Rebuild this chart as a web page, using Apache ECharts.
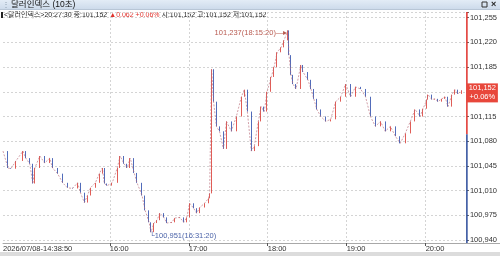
<!DOCTYPE html>
<html>
<head>
<meta charset="utf-8">
<script src="https://cdn.jsdelivr.net/npm/echarts@6/dist/echarts.min.js"></script>
<style>
  html, body { margin: 0; padding: 0; background: #fff; }
  #chart { width: 500px; height: 256px; }
</style>
</head>
<body>
<div id="chart"></div>
<script>
/* 달러인덱스 (10초) — intraday tick chart */
const times = [
  '14:38:50','14:42:40','14:44:50','14:48:40','14:54:00','14:56:10','14:59:10','15:01:30','15:03:00','15:06:50',
  '15:10:30','15:14:20','15:16:30','15:20:20','15:24:10','15:27:50','15:31:40','15:35:30','15:37:40','15:40:40',
  '15:43:00','15:45:20','15:49:00','15:52:00','15:54:20','15:55:50','15:58:00','16:01:50','16:05:40','16:07:50',
  '16:10:50','16:13:10','16:15:30','16:18:30','16:20:40','16:24:30','16:26:50','16:29:50','16:31:20','16:33:30',
  '16:35:50','16:38:00','16:41:00','16:43:20','16:47:10','16:49:20','16:53:10','16:56:10','16:58:30','17:00:40',
  '17:03:40','17:06:00','17:08:20','17:12:00','17:15:00','17:15:50','17:17:20','17:18:50','17:21:00','17:23:20',
  '17:26:20','17:28:40','17:32:20','17:36:10','17:40:00','17:42:10','17:44:30','17:47:30','17:49:50','17:52:50',
  '17:55:00','17:57:20','17:59:30','18:02:40','18:04:50','18:07:10','18:10:10','18:12:20','18:15:20','18:16:10',
  '18:17:40','18:19:10','18:21:30','18:25:10','18:26:50','18:30:30','18:32:50','18:35:00','18:37:20','18:40:20',
  '18:44:10','18:47:50','18:51:40','18:55:30','18:59:10','19:03:00','19:06:40','19:10:30','19:14:20','19:18:00',
  '19:21:50','19:25:40','19:29:20','19:33:10','19:37:00','19:40:40','19:44:30','19:48:20','19:52:00','19:55:50',
  '19:58:00','20:01:00','20:01:50','20:04:50','20:07:10','20:09:20','20:12:20','20:14:40','20:17:00','20:20:00',
  '20:22:10','20:24:30','20:27:30'
];
const closes = [
  101.066,101.042,101.041,101.052,101.066,101.056,101.048,101.020,101.042,101.059,
  101.049,101.056,101.042,101.034,101.021,101.014,101.013,101.021,101.007,100.993,
  101.003,101.014,101.021,101.034,101.042,101.020,101.017,101.021,101.042,101.059,
  101.048,101.042,101.056,101.035,101.021,101.003,100.982,100.965,100.951,100.964,
  100.968,100.978,100.972,100.964,100.965,100.971,100.972,100.965,100.972,100.992,
  100.985,100.978,100.986,100.992,100.999,101.006,101.182,101.136,101.101,101.094,
  101.069,101.108,101.094,101.115,101.143,101.153,101.122,101.066,101.073,101.108,
  101.129,101.122,101.150,101.171,101.185,101.206,101.213,101.223,101.237,101.202,
  101.174,101.161,101.154,101.188,101.178,101.167,101.154,101.140,101.125,101.115,
  101.108,101.111,101.136,101.143,101.161,101.143,101.157,101.154,101.143,101.115,
  101.101,101.108,101.094,101.101,101.087,101.077,101.091,101.108,101.125,101.115,
  101.126,101.139,101.146,101.139,101.140,101.136,101.140,101.143,101.129,101.146,
  101.153,101.147,101.152
];
const yTicks = [100.940, 100.975, 101.010, 101.045, 101.080, 101.115, 101.150, 101.185, 101.220, 101.255];
const hourTicks = ['16:00', '17:00', '18:00', '19:00', '20:00'];
const startTime = '14:38:50';
const endTime = '20:31:20';
const yMin = 100.9357, yMax = 101.2631;
const prevClose = 101.090;
const lastPrice = 101.152;
const maxPoint = ['18:15:20', 101.237];
const minPoint = ['16:31:20', 100.951];

// seconds since midnight
function ts(hms) {
  const p = hms.split(':').map(Number);
  return p[0] * 3600 + p[1] * 60 + (p[2] || 0);
}
const fmt = v => v.toFixed(3).replace('.', ',');
const FONT = '"Liberation Sans", sans-serif';
const KFONT = '"Liberation Sans", "Noto Sans CJK KR", sans-serif';

const candles = closes.map((c, i) => {
  const o = i ? closes[i - 1] : c;
  return [ts(times[i]), o, c, Math.min(o, c), Math.max(o, c)];
});

const chart = echarts.init(document.getElementById('chart'), null, { renderer: 'canvas' });
chart.setOption({
  animation: false,
  backgroundColor: '#fff',
  grid: { left: 0, right: 33, top: 12, bottom: 13 },
  graphic: [
    { type: 'rect', shape: { x: 0, y: 0, width: 500, height: 9 },
      style: { fill: new echarts.graphic.LinearGradient(0, 0, 0, 1, [
        { offset: 0, color: '#e3ecf6' }, { offset: 1, color: '#cddbeb' }]) } },
    { type: 'rect', shape: { x: 0, y: 9, width: 500, height: 1 }, style: { fill: '#b8c6d6' } },
    { type: 'text', x: 2, y: 4.5, style: { text: '⋮', fill: '#8899aa', font: '8px ' + KFONT, verticalAlign: 'middle' } },
    { type: 'text', x: 11, y: 4.5, style: { text: '달러인덱스 (10초)', fill: '#111', font: '8.5px ' + KFONT, verticalAlign: 'middle' } },
    { type: 'rect', shape: { x: 482, y: 2, width: 5, height: 5 }, style: { fill: 'none', stroke: '#333', lineWidth: 1 } },
    { type: 'text', x: 491, y: 4.5, style: { text: '×', fill: '#222', font: 'bold 9px ' + FONT, verticalAlign: 'middle' } },
    { type: 'rect', shape: { x: 1, y: 12, width: 2, height: 6 }, style: { fill: '#222' } },
    { type: 'text', x: 4, y: 15, style: {
        text: '{k|<달러인덱스>20:27:30 종:101,152 }{r|▲0.062 +0.06%}{k| 시:101,152 고:101,152 저:101,152}',
        verticalAlign: 'middle',
        rich: {
          k: { fill: '#222', font: '7px ' + KFONT },
          r: { fill: '#e0302a', font: '7px ' + KFONT }
        } } },
    { type: 'rect', shape: { x: 0, y: 252, width: 500, height: 4 }, style: { fill: '#dcdcdc' } },
    { type: 'rect', shape: { x: 467, y: 243, width: 33, height: 1 }, style: { fill: '#a8a8a8' } }
  ],
  xAxis: {
    type: 'value',
    min: ts(startTime), max: ts(endTime),
    axisLine: { show: true, lineStyle: { color: '#a8a8a8', width: 1 } },
    axisTick: { show: true, length: 3, lineStyle: { color: '#555' }, customValues: hourTicks.map(ts) },
    splitLine: { show: true, lineStyle: { color: '#d4d4d4', type: [2, 2] } },
    axisLabel: {
      customValues: [ts(startTime)].concat(hourTicks.map(ts)),
      align: 'left', margin: 2, color: '#333', fontSize: 7.5, fontFamily: FONT,
      formatter: v => v === ts(startTime) ? '2026/07/08-' + startTime
        : hourTicks[hourTicks.map(ts).indexOf(v)]
    }
  },
  yAxis: {
    type: 'value', position: 'right', scale: true,
    min: yMin, max: yMax,
    axisLine: { show: false },
    axisTick: { show: true, length: 2, lineStyle: { color: '#555' }, customValues: yTicks.concat([yMax]) },
    splitLine: { show: true, lineStyle: { color: '#d4d4d4', type: [2, 2] } },
    axisLabel: { customValues: yTicks, margin: 3, color: '#333', fontSize: 7.5, fontFamily: FONT, formatter: fmt }
  },
  series: [
    {
      type: 'line', name: 'trace', data: candles.map(d => [d[0], d[2]]), symbol: 'none', silent: true,
      lineStyle: { color: '#b86a78', width: 0.8, type: [2, 1.5], opacity: 0.8 }
    },
    {
      type: 'candlestick', name: 'price', data: candles, barWidth: 1,
      itemStyle: { color: '#d8342c', color0: '#2646a8', borderColor: '#d8342c', borderColor0: '#2646a8', borderWidth: 0.8 },
      markPoint: {
        symbol: 'circle', symbolSize: 1, itemStyle: { color: 'transparent' },
        data: [
          { coord: [ts(maxPoint[0]), maxPoint[1]],
            label: { show: true, position: 'left', distance: 0, offset: [0, 3], color: '#b85a50', fontSize: 7.5, fontFamily: FONT,
              formatter: fmt(maxPoint[1]) + '(' + maxPoint[0] + ')—▸' } },
          { coord: [ts(minPoint[0]), minPoint[1]],
            label: { show: true, position: 'right', distance: 0, offset: [-2, 4], color: '#4a62a8', fontSize: 7.5, fontFamily: FONT,
              formatter: '└' + fmt(minPoint[1]) + '(' + minPoint[0] + ')' } }
        ]
      }
    },
    {
      type: 'line', name: 'axisUp', silent: true, clip: false, symbol: 'none',
      data: [[ts(endTime), yMax], [ts(endTime), prevClose]],
      lineStyle: { color: '#e0302a', width: 1.5 },
      markPoint: {
        symbol: 'rect', symbolSize: [31, 19], symbolOffset: [15.5, 2.5], itemStyle: { color: '#e8473b' },
        data: [{ coord: [ts(endTime), lastPrice],
          label: { show: true, position: 'inside', color: '#fff', fontSize: 7.5, lineHeight: 9, fontFamily: FONT, align: 'center',
            formatter: fmt(lastPrice) + '\n+0.06%' } }]
      }
    },
    {
      type: 'line', name: 'axisDown', silent: true, clip: false, symbol: 'none',
      data: [[ts(endTime), prevClose], [ts(endTime), yMin]],
      lineStyle: { color: '#2a4a9a', width: 1.5 }
    }
  ]
});
</script>
</body>
</html>
